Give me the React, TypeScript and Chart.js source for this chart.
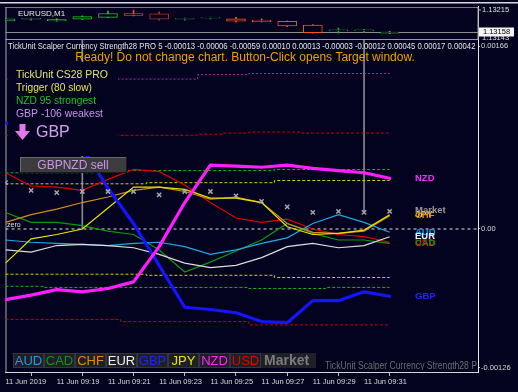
import React, { useEffect, useRef } from 'react';
import { Chart, registerables } from 'chart.js';

Chart.register(...registerables);

// ---------------- data ----------------
const currencies = ['AUD', 'CAD', 'CHF', 'EUR', 'GBP', 'JPY', 'NZD', 'USD'];
const timeLabels = ['11 Jun 2019', '11 Jun 09:19', '11 Jun 09:21', '11 Jun 09:23', '11 Jun 09:25', '11 Jun 09:27', '11 Jun 09:29', '11 Jun 09:31'];
const timeTickIdx = [0, 2, 4, 6, 8, 10, 12, 14];

const nzdVals = [-0.00064, -0.0006, -0.00055, -0.00057, -0.00054, -0.00048, -0.00016, 0.00024, 0.00058, 0.00057, 0.00056, 0.00058, 0.00055, 0.00053, 0.00051, 0.00046];
const gbpVals = [0.00096, 0.00094, 0.0009, 0.00074, 0.00037, 0.00005, -0.00033, -0.00071, -0.00073, -0.00076, -0.00084, -0.00085, -0.00065, -0.00065, -0.00057, -0.00061];
const usdVals = [0.00051, 0.00039, 0.00038, 0.00035, 0.00045, 0.00054, 0.00052, 0.0004, 0.00024, 0.0001, 0.00006, 0.00009, 0.0, -0.00005, -0.00007, -0.00012];
const chfVals = [0.00006, 0.00013, 0.00018, 0.00024, 0.00029, 0.00035, 0.00038, 0.00034, 0.00027, 0.00029, 0.00024, 0.00005, -0.00003, -0.00004, -0.00002, 0.00012];
const jpyVals = [-0.00031, -0.00009, -0.00005, 0.0, 0.00019, 0.00038, 0.00038, 0.00036, 0.00028, 0.00028, 0.00024, 0.00002, -0.00005, -0.00004, -0.00001, 0.00013];
const cadVals = [0.00015, 0.00006, 0.00006, 0.00003, -0.00002, -0.00005, -0.00019, -0.00039, -0.0003, -0.0002, -0.0001, 0.00005, -0.00004, -0.0001, -0.0001, -0.00013];
const audVals = [-0.0001, -0.00012, -0.00013, -0.00014, -0.00015, -0.00013, -0.00012, -0.00016, -0.00023, -0.00019, -0.00013, -0.00008, 0.00005, 0.00013, 0.00006, -0.00003];
const eurVals = [-0.00019, -0.00021, -0.00015, -0.00014, -0.00015, -0.00017, -0.00023, -0.00031, -0.00035, -0.00033, -0.00026, -0.00016, -0.00013, -0.00017, -0.00015, -0.00007];
const marketVals = [0.00042, 0.00035, 0.00033, 0.00034, 0.00034, 0.00034, 0.00031, 0.00034, 0.00034, 0.0003, 0.00025, 0.0002, 0.00015, 0.00016, 0.00015, 0.00016];

const lvlMagentaUp = [0.00136, 0.00136, 0.00136, 0.00136, 0.00136, 0.00136, 0.00136, 0.00136, 0.0014, 0.0014, 0.00141, 0.00141, 0.00141, 0.00141, 0.00141, 0.00141];
const lvlRedUp = [0.00085, 0.00085, 0.00085, 0.00085, 0.00085, 0.00085, 0.00085, 0.00085, 0.00086, 0.00087, 0.00088, 0.00088, 0.00087, 0.00087, 0.00087, 0.00087];
const lvlGreenUp = [0.00051, 0.00051, 0.00051, 0.00051, 0.00053, 0.00053, 0.00053, 0.00053, 0.00053, 0.00053, 0.00053, 0.00054, 0.00054, 0.00054, 0.00054, 0.00054];
const lvlYellowUp = [0.00041, 0.00041, 0.00041, 0.00041, 0.00041, 0.00041, 0.00042, 0.00042, 0.00042, 0.00042, 0.00042, 0.00044, 0.00044, 0.00044, 0.00044, 0.00044];
const lvlYellowDn = [-0.00041, -0.00041, -0.00041, -0.00041, -0.00041, -0.00041, -0.00042, -0.00042, -0.00042, -0.00042, -0.00042, -0.00044, -0.00044, -0.00044, -0.00044, -0.00044];
const lvlGreenDn = [-0.00052, -0.00052, -0.00053, -0.00053, -0.00053, -0.00053, -0.00053, -0.00053, -0.00053, -0.00053, -0.00054, -0.00054, -0.00054, -0.00053, -0.00053, -0.00053];
const lvlRedDn = [-0.00082, -0.00082, -0.00082, -0.00082, -0.00082, -0.00084, -0.00084, -0.00084, -0.00084, -0.00084, -0.00087, -0.00087, -0.00087, -0.00087, -0.00087, -0.00087];

const strengthTicks = [0.00166, 0, -0.00126];
const priceLabels = [1.13215, 1.13158, 1.13143];

const candleOpen = [1.13187, 1.13191, 1.13187, 1.13191, 1.13196, 1.13206, 1.13205, 1.13191, 1.13194, 1.13192, 1.13189, 1.13186, 1.13176, 1.13161, 1.13161, 1.13155];
const candleClose = [1.13192, 1.13192, 1.1319, 1.13198, 1.13206, 1.13201, 1.13191, 1.13192, 1.13194, 1.13186, 1.13185, 1.13174, 1.13156, 1.13161, 1.13162, 1.13158];
const candleHigh = [1.13194, 1.13194, 1.13192, 1.132, 1.13212, 1.13215, 1.1321, 1.13195, 1.13197, 1.13196, 1.13192, 1.13187, 1.13177, 1.13168, 1.13165, 1.1316];
const candleLow = [1.13186, 1.13189, 1.13186, 1.1319, 1.13195, 1.132, 1.13189, 1.13188, 1.13191, 1.13184, 1.13184, 1.13172, 1.13155, 1.13155, 1.13157, 1.13154];

const vLineIdx = [3, 14];
const vLineEnd = [0, 0.00015];

const headerText = 'TickUnit Scalper Currency Strength28 PRO 5 -0.00013 -0.00006 -0.00059 0.00010 0.00013 -0.00003 -0.00012 0.00045 0.00017 0.00042 -0.00019';
const readyText = 'Ready! Do not change chart. Button-Click opens Target window.';
const infoLines = ['TickUnit CS28 PRO', 'Trigger (80 slow)', 'NZD 95 strongest', 'GBP -106 weakest'];
const weakestText = 'GBP';
const pairText = 'GBPNZD sell';
const marketText = 'Market';
const footerText = 'TickUnit Scalper Currency Strength28 P';
const symbolText = 'EURUSD,M1';

// ---------------- styles ----------------
const BG = '#03031f';
const FONT = '"Liberation Sans", Arial, sans-serif';
const X_MAX = 18.45;
const Y_MIN = -0.0012972;
const Y_MAX = 0.0020229;
const P_MIN = 1.122771;
const P_MAX = 1.132254;

const lineColors: Record<string, string> = {
  AUD: '#1ea8e8', CAD: '#0c9a0c', CHF: '#d48a1c', EUR: '#dcdcdc',
  GBP: '#1414ff', JPY: '#e6e600', NZD: '#ff1eff', USD: '#e60000',
};
const textColors: Record<string, string> = {
  AUD: '#1e9ae6', CAD: '#0c980c', CHF: '#e68a00', EUR: '#f0f0f0',
  GBP: '#2222ff', JPY: '#e6e600', NZD: '#ff28ff', USD: '#e60000',
};
const candleColors = ['#2dbe2d', '#4a8a4a', '#1ee61e', '#1ec81e', '#1ec81e', '#ff4614', '#b4321e', '#2a6e2a', '#2a6e2a', '#ff5a1e', '#ff5a1e', '#e6501e', '#ff5014', '#2aa02a', '#2aa02a', '#1ee61e'];

const seriesByName: Record<string, number[]> = {
  AUD: audVals, CAD: cadVals, CHF: chfVals, EUR: eurVals,
  GBP: gbpVals, JPY: jpyVals, NZD: nzdVals, USD: usdVals,
};

const pts = (vals: number[]) => vals.map((v, i) => ({ x: i, y: v }));

const levelDs = (vals: number[], color: string, dash: number[]) => ({
  type: 'line', data: pts(vals), borderColor: color, borderWidth: 1, borderDash: dash,
  pointRadius: 0, stepped: 'middle', order: 30, xAxisID: 'x', yAxisID: 'y',
});

const thin = (name: string, order: number) => ({
  type: 'line', data: pts(seriesByName[name]), borderColor: lineColors[name], borderWidth: 1.2,
  pointRadius: 0, tension: 0, order, xAxisID: 'x', yAxisID: 'y',
});
const thick = (name: string, order: number) => ({
  type: 'line', data: pts(seriesByName[name]), borderColor: lineColors[name], borderWidth: 3.2,
  pointRadius: 0, tension: 0, order, borderJoinStyle: 'round', borderCapStyle: 'round', xAxisID: 'x', yAxisID: 'y',
});

function hline(ctx: CanvasRenderingContext2D, x1: number, y1: number, x2: number, y2: number, color: string, w = 1) {
  ctx.strokeStyle = color;
  ctx.lineWidth = w;
  ctx.beginPath();
  ctx.moveTo(x1, y1);
  ctx.lineTo(x2, y2);
  ctx.stroke();
}

function txt(ctx: CanvasRenderingContext2D, s: string, x: number, y: number, font: string, color: string, align: CanvasTextAlign = 'left', maxW?: number) {
  ctx.font = font;
  ctx.fillStyle = color;
  ctx.textAlign = align;
  ctx.textBaseline = 'middle';
  if (maxW) ctx.fillText(s, x, y, maxW);
  else ctx.fillText(s, x, y);
}

const mtPlugin = {
  id: 'mt4',
  beforeDraw(chart: any) {
    const { ctx, width, height } = chart;
    ctx.save();
    ctx.fillStyle = BG;
    ctx.fillRect(0, 0, width, height);
    ctx.fillStyle = '#d8d8d8';
    ctx.fillRect(0, 2, width, 1.5);
    ctx.restore();
  },
  beforeDatasetsDraw(chart: any) {
    const { ctx, chartArea: a, scales } = chart;
    const xs = scales.x, ys = scales.y, yP = scales.yP;
    ctx.save();
    hline(ctx, a.left, 7.5, a.right, 7.5, '#7a7a7a');
    hline(ctx, a.left, 39.5, a.right, 39.5, '#9a9a9a');
    hline(ctx, a.left + 0.5, 7, a.left + 0.5, a.bottom, '#a8a8a8');
    const py = Math.round(yP.getPixelForValue(priceLabels[1])) + 0.5;
    hline(ctx, a.left, py, a.right, py, '#8c8c8c');
    vLineIdx.forEach((idx, k) => {
      const px = xs.getPixelForValue(idx);
      hline(ctx, px, 40, px, ys.getPixelForValue(vLineEnd[k]), '#8c8c8c', 1.6);
    });
    ctx.restore();
  },
  afterDatasetsDraw(chart: any) {
    const { ctx, chartArea: a, scales } = chart;
    const ys = scales.y, yP = scales.yP;
    ctx.save();

    // symbol label of the price window
    txt(ctx, symbolText, 18, 14, `8px ${FONT}`, '#e8e8e8');

    // panel behind the info texts
    ctx.fillStyle = BG;
    ctx.fillRect(8, 62, 110, 94);

    // header of the indicator window
    ctx.save();
    ctx.beginPath();
    ctx.rect(a.left, 40, a.right - a.left - 1, 14);
    ctx.clip();
    txt(ctx, headerText, 8, 47, `9px ${FONT}`, '#e6e6e6', 'left', 500);
    ctx.restore();

    txt(ctx, readyText, 245, 58, `12px ${FONT}`, '#f0a000', 'center', 366);

    const infoColors = ['#e2e27a', '#e6e650', '#1ec81e', '#c896f0'];
    const infoW = [92, 76, 80, 87];
    infoLines.forEach((s, i) => txt(ctx, s, 16, 75 + i * 13, `11px ${FONT}`, infoColors[i], 'left', infoW[i]));

    // down arrow + weakest currency
    ctx.fillStyle = '#e27ae8';
    ctx.beginPath();
    ctx.moveTo(19.5, 124); ctx.lineTo(25.5, 124); ctx.lineTo(25.5, 131);
    ctx.lineTo(30, 131); ctx.lineTo(22.5, 140); ctx.lineTo(15, 131); ctx.lineTo(19.5, 131);
    ctx.closePath();
    ctx.fill();
    txt(ctx, weakestText, 36, 133, `16px ${FONT}`, '#d8a0f0', 'left', 34);

    // sell button
    ctx.fillStyle = '#3c3c3e';
    ctx.fillRect(20, 157, 107, 16);
    hline(ctx, 20, 157.5, 127, 157.5, '#6a6a6a');
    hline(ctx, 20.5, 157, 20.5, 173, '#6a6a6a');
    hline(ctx, 20, 172.5, 127, 172.5, '#1a1a1a');
    hline(ctx, 126.5, 157, 126.5, 173, '#1a1a1a');
    txt(ctx, pairText, 73, 165.5, `12px ${FONT}`, '#c896e6', 'center', 76);

    // zero label
    txt(ctx, 'zero', 7, ys.getPixelForValue(0) - 4, `7px ${FONT}`, '#e0e0e0');

    // legend buttons
    const boxX = [13, 44, 75, 106, 137, 168, 199, 230];
    currencies.forEach((c, i) => {
      ctx.fillStyle = '#1f1f27';
      ctx.fillRect(boxX[i], 353, 31, 15);
      ctx.strokeStyle = '#35353d';
      ctx.lineWidth = 1;
      ctx.strokeRect(boxX[i] + 0.5, 353.5, 30, 14);
      txt(ctx, c, boxX[i] + 15.5, 361, `13px ${FONT}`, textColors[c], 'center', 28);
    });
    ctx.fillStyle = '#1f1f27';
    ctx.fillRect(261, 353, 55, 15);
    txt(ctx, marketText, 264, 361, `bold 14px ${FONT}`, '#7c7c7c', 'left', 49);

    ctx.save();
    ctx.beginPath();
    ctx.rect(320, 350, a.right - 320, 20);
    ctx.clip();
    txt(ctx, footerText, 325, 366, `10px ${FONT}`, '#6c6c70', 'left', 152);
    ctx.restore();

    // end-of-line labels
    const labelOrder = ['GBP', 'NZD', 'JPY', 'CHF', 'AUD', 'EUR', 'USD', 'CAD'];
    labelOrder.forEach((c) => {
      const vals = seriesByName[c];
      txt(ctx, c, 415, ys.getPixelForValue(vals[vals.length - 1]), `bold 9.5px ${FONT}`, textColors[c]);
    });
    txt(ctx, marketText, 415, ys.getPixelForValue(marketVals[marketVals.length - 1]) - 1, `bold 9.5px ${FONT}`, '#9a9a9a');

    // price scale of the top window
    const pf = `7.5px ${FONT}`;
    const p0 = yP.getPixelForValue(priceLabels[0]);
    hline(ctx, a.right, p0, a.right + 3, p0, '#c0c0c0');
    txt(ctx, priceLabels[0].toFixed(5), 482, p0, pf, '#e0e0e0');
    hline(ctx, a.right, 7, a.right, 40, '#9a9a9a');
    const p2 = yP.getPixelForValue(priceLabels[2]);
    txt(ctx, priceLabels[2].toFixed(5), 482, p2, pf, '#e0e0e0');
    const p1 = yP.getPixelForValue(priceLabels[1]);
    ctx.fillStyle = '#f4f4f4';
    ctx.fillRect(479, p1 - 4.5, 35, 9);
    txt(ctx, priceLabels[1].toFixed(5), 496.5, p1, pf, '#000000', 'center');

    ctx.restore();
  },
};

export default function App() {
  const ref = useRef<HTMLCanvasElement>(null);

  useEffect(() => {
    if (!ref.current) return;
    const datasets: any[] = [
      // price window candles
      {
        type: 'bar', label: 'wicks', xAxisID: 'x', yAxisID: 'yP', order: 41, grouped: false, clip: 0,
        data: candleHigh.map((h, i) => ({ x: i, y: [candleLow[i], h] })),
        backgroundColor: candleColors, borderWidth: 0, barThickness: 1, maxBarThickness: 1,
      },
      {
        type: 'bar', label: 'bodies', xAxisID: 'x', yAxisID: 'yP', order: 40, grouped: false, clip: 0,
        data: candleOpen.map((o, i) => ({ x: i, y: [o, candleClose[i]] })),
        backgroundColor: BG, borderColor: candleColors, borderWidth: 1, borderSkipped: false,
        barThickness: 19, maxBarThickness: 19, minBarLength: 1,
      },
      // levels
      levelDs(lvlMagentaUp, '#b428b4', [2, 2]),
      levelDs(lvlRedUp, '#c80000', [3, 2]),
      levelDs(lvlGreenUp, '#14b414', [3, 2]),
      levelDs(lvlYellowUp, '#d2d200', [3, 2]),
      levelDs(lvlYellowDn, '#d2d200', [3, 2]),
      levelDs(lvlGreenDn, '#14b414', [3, 2]),
      levelDs(lvlRedDn, '#c80000', [3, 2]),
      {
        type: 'line', data: [{ x: 0, y: 0 }, { x: X_MAX, y: 0 }], borderColor: '#e0e0e0', borderWidth: 1,
        borderDash: [3, 3], pointRadius: 0, order: 29, xAxisID: 'x', yAxisID: 'y',
      },
      // currency lines
      thin('CAD', 13), thin('USD', 14), thin('AUD', 12), thin('EUR', 11), thin('CHF', 10), thin('JPY', 9),
      thick('GBP', 6), thick('NZD', 5),
      {
        type: 'line', label: 'Market', data: pts(marketVals), showLine: false, order: 1,
        pointStyle: 'crossRot', pointRadius: 3, pointBorderColor: '#a6a6a6', pointBorderWidth: 1.5,
        pointBackgroundColor: 'rgba(0,0,0,0)', borderColor: '#a6a6a6', xAxisID: 'x', yAxisID: 'y',
      },
    ];

    const chart = new Chart(ref.current, {
      type: 'line',
      data: { datasets },
      options: {
        animation: false,
        responsive: false,
        maintainAspectRatio: false,
        devicePixelRatio: 1,
        events: [],
        layout: { padding: { left: 5, top: 6, right: 0, bottom: 0 } },
        plugins: { legend: { display: false }, tooltip: { enabled: false }, title: { display: false } },
        scales: {
          x: {
            type: 'linear', min: 0, max: X_MAX, offset: false, position: 'bottom',
            afterBuildTicks: (s: any) => { s.ticks = timeTickIdx.map((v) => ({ value: v })); },
            afterFit: (s: any) => { s.height = 20; },
            ticks: {
              autoSkip: false, maxRotation: 0, minRotation: 0, align: 'start', padding: 1,
              color: '#dcdcdc', font: { family: FONT, size: 7.5 },
              callback: (_v: any, i: number) => timeLabels[i],
            },
            grid: { display: true, drawOnChartArea: false, drawTicks: true, tickLength: 4, color: '#bdbdbd' },
            border: { display: true, color: '#d4d4d4', width: 1 },
          },
          y: {
            type: 'linear', position: 'right', min: Y_MIN, max: Y_MAX,
            afterBuildTicks: (s: any) => { s.ticks = strengthTicks.map((v) => ({ value: v })); },
            afterFit: (s: any) => { s.width = 40; },
            ticks: {
              autoSkip: false, padding: 1, color: '#dcdcdc', font: { family: FONT, size: 7.5 },
              callback: (v: any) => (v === 0 ? '0.00' : Number(v).toFixed(5)),
            },
            grid: { display: true, drawOnChartArea: false, drawTicks: true, tickLength: 2, color: '#c0c0c0' },
            border: { display: true, color: '#e8e8e8', width: 1 },
          },
          yP: { type: 'linear', display: false, min: P_MIN, max: P_MAX },
        },
      } as any,
      plugins: [mtPlugin as any],
    });
    return () => chart.destroy();
  }, []);

  return (
    <div style={{ position: 'fixed', left: 0, top: 0, width: 518, height: 392, background: BG }}>
      <canvas ref={ref} width={518} height={392} style={{ display: 'block', width: 518, height: 392 }} />
    </div>
  );
}
